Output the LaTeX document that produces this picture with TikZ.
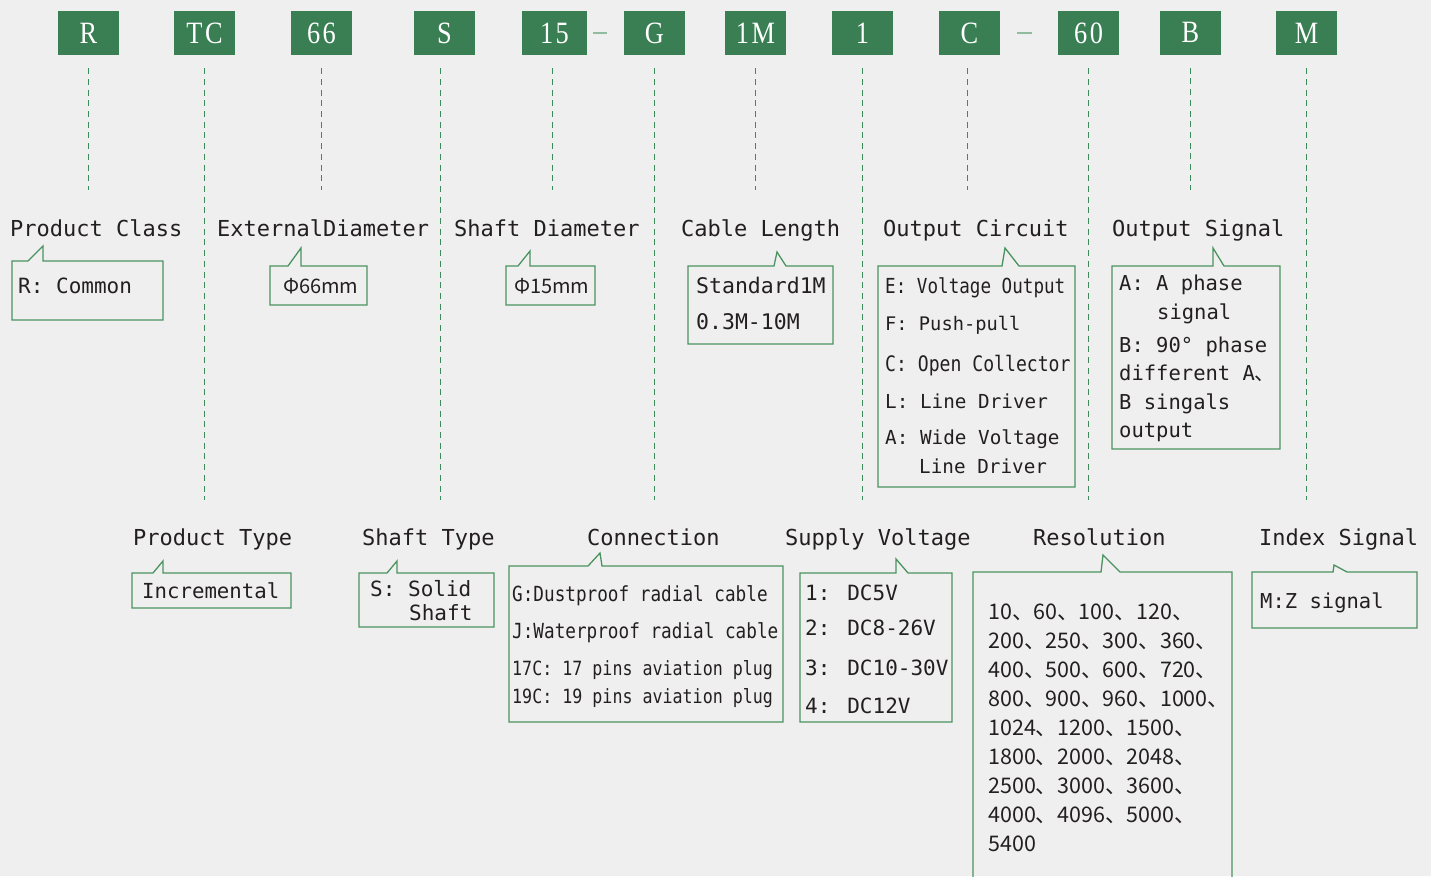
\documentclass[tikz,border=0pt]{standalone}
\usepackage{fontspec}
\usetikzlibrary{calc}
\newfontfamily\codefont{Liberation Serif}[FakeStretch=0.85,LetterSpace=8]
\newfontfamily\monofont{DejaVu Sans Mono}
\newfontfamily\narrowfont{DejaVu Sans Mono}[FakeStretch=0.85]
\newfontfamily\cjkfont{Noto Sans CJK SC}
\newcommand\fs[1]{\fontsize{#1}{#1}\selectfont}
\definecolor{bg}{HTML}{EFEFEF}
\definecolor{codegreen}{HTML}{397F53}
\definecolor{boxgreen}{HTML}{4A9360}
\definecolor{guidegreen}{HTML}{3D8A5A}
\definecolor{jointgreen}{HTML}{8FBC9F}
\definecolor{ink}{HTML}{231F20}
% callout box: x1,y1,x2,y2, pointer left x, tip, pointer right x
\newcommand\callout[7]{\draw[bubble] (#1,#2) -- (#5,#2) -- (#6) -- (#7,#2) -- (#3,#2) -- (#3,#4) -- (#1,#4) -- cycle;}
\tikzset{
	code/.style={fill=codegreen,text=white,minimum width=61pt,minimum height=44pt,inner sep=0pt,font=\codefont\fs{31}},
	guide/.style={draw=guidegreen,line width=1.4pt,dash pattern=on 6pt off 4.7pt,shorten <=13pt},
	joint/.style={draw=jointgreen,line width=1.4pt},
	head/.style={anchor=base west,inner sep=0pt,text=ink,font=\monofont\fs{22}},
	item/.style={anchor=base west,inner sep=0pt,text=ink,font=\monofont\fs{21}},
	bubble/.style={draw=boxgreen,line width=1.3pt},
}
\begin{document}
\begin{tikzpicture}[x=1pt,y=-1pt]
	\useasboundingbox (0,0) rectangle (1431,876);
	\fill[bg] (0,0) rectangle (1431,876);
	\path (0,190) coordinate (upper) (0,500) coordinate (lower);
	% code boxes
	\node[code] (cR) at (88.5,33) {R};
	\node[code] (cTC) at (204.5,33) {TC};
	\node[code] (c66) at (321.5,33) {66};
	\node[code] (cS) at (444.5,33) {S};
	\node[code,minimum width=65pt] (c15) at (554.5,33) {15};
	\node[code] (cG) at (654.5,33) {G};
	\node[code] (c1M) at (755.5,33) {1M};
	\node[code] (c1) at (862.5,33) {1};
	\node[code] (cC) at (969.5,33) {C};
	\node[code] (c60) at (1088.5,33) {60};
	\node[code] (cB) at (1190.5,32.5) {B};
	\node[code] (cM) at (1306.5,33) {M};
	\draw[joint,shorten <=6pt,shorten >=17pt] (c15) -- (cG);
	\draw[joint,shorten <=17pt,shorten >=26pt] (cC) -- (c60);
	% guides
	\draw[guide] (cR.south) -- (cR.south |- upper);
	\draw[guide] (cTC.south) -- (cTC.south |- lower);
	\draw[guide] (c66.south) -- (c66.south |- upper);
	\draw[guide] ($(cS.south)+(-4,0)$) -- ($(cS.south |- lower)+(-4,0)$);
	\draw[guide] ($(c15.south)+(-2,0)$) -- ($(c15.south |- upper)+(-2,0)$);
	\draw[guide] (cG.south) -- (cG.south |- lower);
	\draw[guide] (c1M.south) -- (c1M.south |- upper);
	\draw[guide] (c1.south) -- (c1.south |- lower);
	\draw[guide] ($(cC.south)+(-2,0)$) -- ($(cC.south |- upper)+(-2,0)$);
	\draw[guide] (c60.south) -- (c60.south |- lower);
	\draw[guide] (cB.south) -- (cB.south |- upper);
	\draw[guide] (cM.south) -- (cM.south |- lower);
	% upper headings
	\node[head] (hClass) at (10,236) {Product Class};
	\node[head] (hDiam) at (217,236) {ExternalDiameter};
	\node[head] (hShaft) at (454,236) {Shaft Diameter};
	\node[head] (hCable) at (681,236) {Cable Length};
	\node[head] (hCirc) at (883,236) {Output Circuit};
	\node[head] (hSig) at (1112,236) {Output Signal};
	% lower headings
	\node[head] (hType) at (133,545) {Product Type};
	\node[head] (hShType) at (362,545) {Shaft Type};
	\node[head] (hConn) at (587,545) {Connection};
	\node[head] (hSupply) at (785,545) {Supply Voltage};
	\node[head] (hRes) at (1033,545) {Resolution};
	\node[head] (hIdx) at (1259,545) {Index Signal};
	% upper callouts
	\callout{12}{261}{163}{320}{28}{43,246}{43}
	\node[item] (tClass) at (18,293) {R: Common};
	\callout{270}{266}{367}{305}{288}{301,248}{301}
	\node[item,font=\cjkfont\fs{20}] (tDiam) at (283,293) {Φ66mm};
	\callout{506}{266}{595}{305}{518}{530,251}{530}
	\node[item,font=\cjkfont\fs{20}] (tShaft) at (514,293) {Φ15mm};
	\callout{688}{266}{833}{344}{774}{777,252}{786}
	\node[item,font=\monofont\fs{21.5}] (tCable1) at (696,293) {Standard1M};
	\node[item,font=\monofont\fs{21.5}] (tCable2) at (696,329) {0.3M-10M};
	\callout{878}{266}{1075}{487}{1002}{1005,248}{1019}
	\node[item,font=\narrowfont\fs{20.7}] (tCircE) at (885,293) {E: Voltage Output};
	\node[item,font=\monofont\fs{18.7}] (tCircF) at (885,330) {F: Push-pull};
	\node[item,font=\narrowfont\fs{21.3}] (tCircC) at (885,371) {C: Open Collector};
	\node[item,font=\monofont\fs{19.3}] (tCircL) at (885,408) {L: Line Driver};
	\node[item,font=\monofont\fs{19.3}] (tCircA) at (885,444) {A: Wide Voltage};
	\node[item,font=\monofont\fs{19.3}] (tCircA2) at (919,473) {Line Driver};
	\callout{1112}{266}{1280}{449}{1213}{1213,248}{1224}
	\node[item,font=\monofont\fs{20.5}] (tSigA) at (1119,290) {A: A phase};
	\node[item,font=\monofont\fs{20.5}] (tSigA2) at (1157,319) {signal};
	\node[item,font=\monofont\fs{20.5}] (tSigB) at (1119,352) {B: 90° phase};
	\node[item,font=\monofont\fs{20.5}] (tSigB2) at (1119,380) {different A{\cjkfont 、}};
	\node[item,font=\monofont\fs{20.5}] (tSigB3) at (1119,409) {B singals};
	\node[item,font=\monofont\fs{20.5}] (tSigB4) at (1119,437) {output};
	% lower callouts
	\callout{132}{573}{291}{608}{153}{163,561}{163}
	\node[item,font=\monofont\fs{20.7}] (tType) at (142,598) {Incremental};
	\callout{359}{573}{494}{627}{387}{397,561}{397}
	\node[item] (tShType1) at (370,596) {S: Solid};
	\node[item] (tShType2) at (409,620) {Shaft};
	\callout{509}{566}{783}{722}{588}{600,553}{602}
	\node[item,font=\narrowfont\fs{20.8}] (tConnG) at (512,601) {G:Dustproof radial cable};
	\node[item,font=\narrowfont\fs{20.8}] (tConnJ) at (512,638) {J:Waterproof radial cable};
	\node[item,font=\narrowfont\fs{19.6}] (tConn17) at (512,675) {17C: 17 pins aviation plug};
	\node[item,font=\narrowfont\fs{19.6}] (tConn19) at (512,703) {19C: 19 pins aviation plug};
	\callout{800}{573}{952}{722}{896}{896,559}{908}
	\node[item] (tSup1) at (805,600) {1: DC5V};
	\node[item] (tSup2) at (805,635) {2: DC8-26V};
	\node[item] (tSup3) at (805,675) {3: DC10-30V};
	\node[item] (tSup4) at (805,713) {4: DC12V};
	\callout{973}{572}{1232}{880}{1101}{1103,555}{1120}
	\foreach \row [count=\i] in {10、60、100、120、,200、250、300、360、,400、500、600、720、,800、900、960、1000、,1024、1200、1500、,1800、2000、2048、,2500、3000、3600、,4000、4096、5000、,5400}
		\node[item,font=\cjkfont\fs{21.5}] (tRes\i) at (988,590+29*\i) {\row};
	\callout{1252}{572}{1417}{628}{1333}{1334,565}{1347}
	\node[item,font=\monofont\fs{20.5}] (tIdx) at (1260,608) {M:Z signal};
\end{tikzpicture}
\end{document}
